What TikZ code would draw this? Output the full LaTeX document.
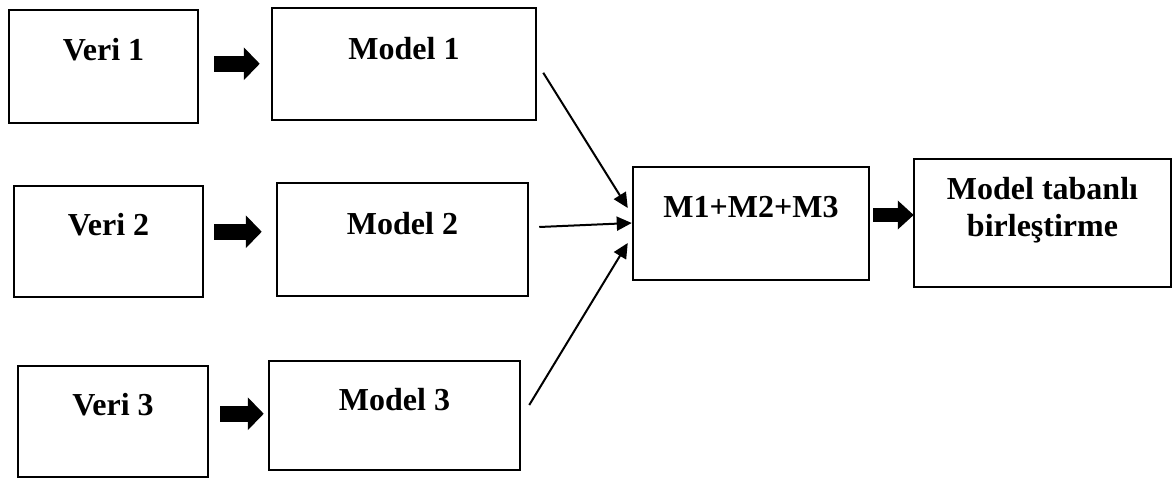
\documentclass[tikz,border=0pt]{standalone}
\usepackage{fontspec}
\setmainfont{Liberation Serif}
\usetikzlibrary{arrows.meta,calc}
\tikzset{
  box/.style={draw=black,line width=2.5pt,inner sep=0pt,rectangle},
  lbl/.style={anchor=base,inner sep=0pt,font=\fontsize{32}{38}\selectfont\bfseries},
  fat/.style={line width=16pt,-{Triangle[length=16pt,width=32pt]}},
  fatb/.style={line width=14pt,-{Triangle[length=16pt,width=28pt]}},
  thin/.style={line width=2pt,-{Triangle[length=15pt,width=14pt]}}
}
\begin{document}
\begin{tikzpicture}[x=1pt,y=-1pt]
\useasboundingbox (0,0) rectangle (1176,479);
% boxes
\node[box,minimum width=189pt,minimum height=113pt] (v1) at (103.5,66.5) {};
\node[box,minimum width=264pt,minimum height=112pt] (m1) at (404,64) {};
\node[box,minimum width=189pt,minimum height=111pt] (v2) at (108.5,241.5) {};
\node[box,minimum width=251pt,minimum height=113pt] (m2) at (402.5,239.5) {};
\node[box,minimum width=190pt,minimum height=111pt] (v3) at (113,421.5) {};
\node[box,minimum width=251pt,minimum height=109pt] (m3) at (394.5,415.5) {};
\node[box,minimum width=236pt,minimum height=113pt] (mm) at (751,223.5) {};
\node[box,minimum width=257pt,minimum height=128pt] (mt) at (1042.5,223) {};
% labels
\node[lbl] (tv1) at ($(v1.north)+(0,52)$) {Veri 1};
\node[lbl] (tm1) at ($(m1.north)+(0,53)$) {Model 1};
\node[lbl] (tv2) at ($(v2.north)+(0,51)$) {Veri 2};
\node[lbl] (tm2) at ($(m2.north)+(0,53)$) {Model 2};
\node[lbl] (tv3) at ($(v3.north)+(0,51)$) {Veri 3};
\node[lbl] (tm3) at ($(m3.north)+(0,51)$) {Model 3};
\node[lbl] (tmm) at ($(mm.north)+(0,52)$) {M1+M2+M3};
\node[lbl] (tmt1) at ($(mt.north)+(0,42)$) {Model tabanlı};
\node[lbl] (tmt2) at ($(mt.north)+(0,79)$) {birleştirme};
% fat arrows
\draw[fat] ($(v1.north east)+(15,55)$) -- ($(m1.north west)+(-11,57)$);
\draw[fat] ($(v2.north east)+(10,47)$) -- ($(m2.north west)+(-14,50)$);
\draw[fat] ($(v3.north east)+(11,49)$) -- ($(m3.north west)+(-4,54)$);
\draw[fatb] ($(mm.east)+(3,-8.5)$) -- ($(mt.west)+(1,-8)$);
% thin arrows
\draw[thin] ($(m1.north east)+(6,66)$) -- ($(mm.west)+(-4,-15.5)$);
\draw[thin] ($(m2.east)+(10,-12.5)$) -- ($(mm.west)+(0,-0.5)$);
\draw[thin] ($(m3.east)+(8,-10.5)$) -- ($(mm.west)+(-4,19.5)$);
\end{tikzpicture}
\end{document}
